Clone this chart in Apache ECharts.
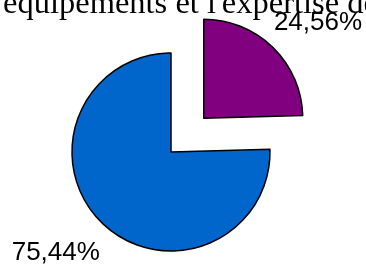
<!DOCTYPE html>
<html>
<head>
<meta charset="utf-8">
<script src="https://cdn.jsdelivr.net/npm/echarts@6/dist/echarts.min.js"></script>
<style>
  html, body { margin: 0; padding: 0; background: #fff; }
  #chart { width: 366px; height: 266px; }
</style>
</head>
<body>
<div id="chart"></div>
<script>
var titleText = "équipements et l'expertise de";
var sliceNames = ['A', 'B'];
var sliceValues = [24.56, 75.44];
var sliceColors = ['#800080', '#0066CC'];

var pieData = sliceValues.map(function (v, i) {
    return {
        value: v,
        name: sliceNames[i],
        selected: i === 0,
        itemStyle: { color: sliceColors[i] }
    };
});

var option = {
    backgroundColor: '#ffffff',
    animation: false,
    title: {
        text: titleText,
        left: 3,
        top: -12,
        padding: 0,
        textStyle: {
            fontFamily: 'Liberation Serif',
            fontWeight: 'normal',
            fontSize: 32.5,
            color: '#000'
        }
    },
    series: [{
        type: 'pie',
        center: [171, 152],
        radius: 99,
        startAngle: 90,
        clockwise: true,
        selectedMode: 'single',
        selectedOffset: 47,
        avoidLabelOverlap: false,
        data: pieData,
        itemStyle: {
            borderColor: '#000',
            borderWidth: 1.5
        },
        emphasis: { disabled: true },
        label: {
            show: true,
            position: 'outside',
            formatter: function (p) {
                return p.value.toFixed(2).replace('.', ',') + '%';
            },
            fontFamily: 'Liberation Sans',
            fontSize: 26,
            color: '#000'
        },
        labelLine: { show: false, length: 36, length2: 0 },
        labelLayout: function (params) {
            // nudge labels in toward the pie, as in the source chart
            return params.align === 'left'
                ? { dx: -29, dy: 1 }
                : { dx: 28, dy: 4 };
        }
    }]
};

var myChart = echarts.init(document.getElementById('chart'));
myChart.setOption(option);
</script>
</body>
</html>
